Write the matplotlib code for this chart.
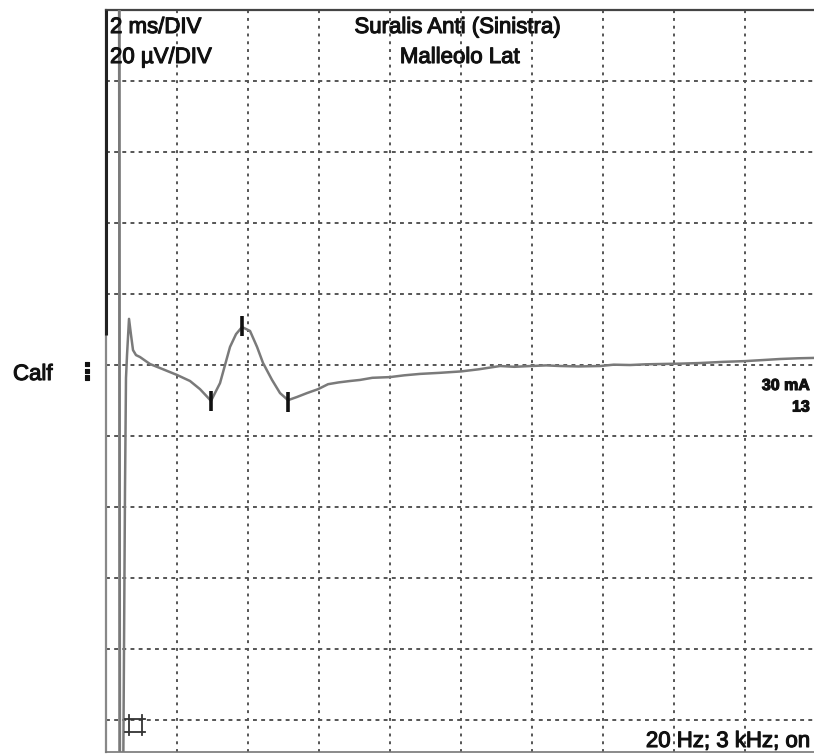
import matplotlib
matplotlib.use("Agg")
import matplotlib.pyplot as plt
import matplotlib.patheffects as pe
from matplotlib.lines import Line2D
import numpy as np

# ---- data (ms, µV) ----
trace_t = [0.366, 0.394, 0.479, 0.535, 0.563, 0.592, 0.648, 0.704, 0.761, 0.845,
           0.958, 1.239, 1.521, 2.0, 2.366, 2.648, 2.958, 3.211, 3.352, 3.493,
           3.662, 3.831, 4.056, 4.254, 4.423, 4.676, 4.901, 5.127, 5.380, 5.662,
           5.972, 6.254, 6.55, 6.873, 7.155, 7.5, 8.0, 8.4, 8.845, 9.4, 10.0,
           10.5, 11.1, 11.5, 11.97, 12.4, 12.79, 13.3, 13.92, 14.3, 14.76,
           15.2, 15.6, 16.2, 16.73, 17.4, 18.0, 18.5, 18.99, 19.5, 19.94]
trace_uv = [130.0, -125.0, -125.0, -35.2, -3.7, 2.8, 13.0, 8.5, 4.2, 2.8,
            2.25, 0.28, -0.85, -2.8, -4.5, -6.8, -10.1, -5.1, 0.0, 5.1,
            8.7, 10.7, 9.6, 5.1, 0.56, -4.2, -7.9, -9.9, -9.0, -7.9,
            -6.8, -5.4, -4.9, -4.5, -4.2, -3.6, -3.4, -2.9, -2.5, -2.2, -1.8,
            -1.2, -0.28, -0.5, -0.28, -0.1, -0.28, -0.4, -0.28, 0.1, 0.0,
            0.2, 0.28, 0.4, 0.56, 0.9, 1.1, 1.4, 1.7, 1.9, 2.0]

marker_t = [2.958, 3.831, 5.127]
marker_uv = [-10.1, 11.0, -10.4]

x_ticks = [2, 4, 6, 8, 10, 12, 14, 16, 18]
y_ticks = [80, 60, 40, 20, 0, -20, -40, -60, -80, -100]
XLIM = (0, 19.94)
YLIM = (-109.0, 100.0)
CAL_BAR_BOTTOM_UV = 8.5
STIM_T = 0.366

plt.rcParams['font.family'] = ['Liberation Sans', 'DejaVu Sans']

W, H = 814, 754
fig = plt.figure(figsize=(W/100, H/100), dpi=100)
ax = fig.add_axes([106/W, 2/H, 1 - 106/W, 742/H])
ax.set_xlim(*XLIM)
ax.set_ylim(*YLIM)

grid_col = '#555555'
for xv in x_ticks:
    ax.axvline(xv, color=grid_col, lw=1.4, ls=(0, (1.5, 2.5)), zorder=1)
for yv in y_ticks:
    ax.axhline(yv, color=grid_col, lw=1.4, ls=(0, (2.0, 2.2)), zorder=1)

ax.set_xticks([])
ax.set_yticks([])
ax.spines['right'].set_visible(False)
ax.spines['top'].set_color('#444444')
ax.spines['top'].set_linewidth(1.6)
ax.spines['left'].set_color('#888888')
ax.spines['left'].set_linewidth(1.6)
ax.spines['bottom'].set_color('#777777')
ax.spines['bottom'].set_linewidth(1.2)

# calibration bar on left frame
ax.plot([0, 0], [YLIM[1], CAL_BAR_BOTTOM_UV], color='#222222', lw=2.2,
        clip_on=False, zorder=5, solid_capstyle='butt')

# stimulus line
ax.axvline(STIM_T, color='#8a8a8a', lw=1.8, zorder=3)

# trace
ax.plot(trace_t, trace_uv, color='#7a7a7a', lw=1.8, zorder=4)

# latency markers
ax.plot(marker_t, marker_uv, ls='none', marker='|', markersize=14,
        markeredgewidth=2.6, color='#111111', zorder=6)

fs = 16
txtc = '#111111'
thick = [pe.withStroke(linewidth=0.8, foreground=txtc)]
def t(x, y, s, **kw):
    kw.setdefault('fontsize', fs)
    kw.setdefault('color', txtc)
    kw.setdefault('va', 'baseline')
    return fig.text(x/W, 1 - y/H, s, path_effects=thick, **kw)

t(110, 33, '2 ms/DIV', ha='left')
t(110, 63, '20 µV/DIV', ha='left')
t(458, 33, 'Suralis Anti (Sinistra)', ha='center')
t(460, 63, 'Malleolo Lat', ha='center')
t(13, 380, 'Calf', ha='left')
t(87, 372, '⋮', fontsize=17, ha='center', va='center',
  family=['DejaVu Sans'], fontweight='bold')
t(810, 390, '30 mA', fontsize=11.5, ha='right', fontweight='bold')
t(810, 411.5, '13', fontsize=11.5, ha='right', fontweight='bold')
t(810, 747, '20 Hz; 3 kHz; on', ha='right')

# '⌗' symbol (no installed font has it) drawn as a small shape
hc = '#333333'
hx0, hx1, hy0, hy1 = 125, 145, 715, 735
vxs = [128.5, 141.5]
hys = [718.5, 731.5]
for vx in vxs:
    fig.add_artist(Line2D([vx/W, vx/W], [1 - hy0/H, 1 - hy1/H], color=hc, lw=1.3))
for hy in hys:
    fig.add_artist(Line2D([hx0/W, hx1/W], [1 - hy/H, 1 - hy/H], color=hc, lw=1.3))

fig.savefig('out.png', dpi=100)
